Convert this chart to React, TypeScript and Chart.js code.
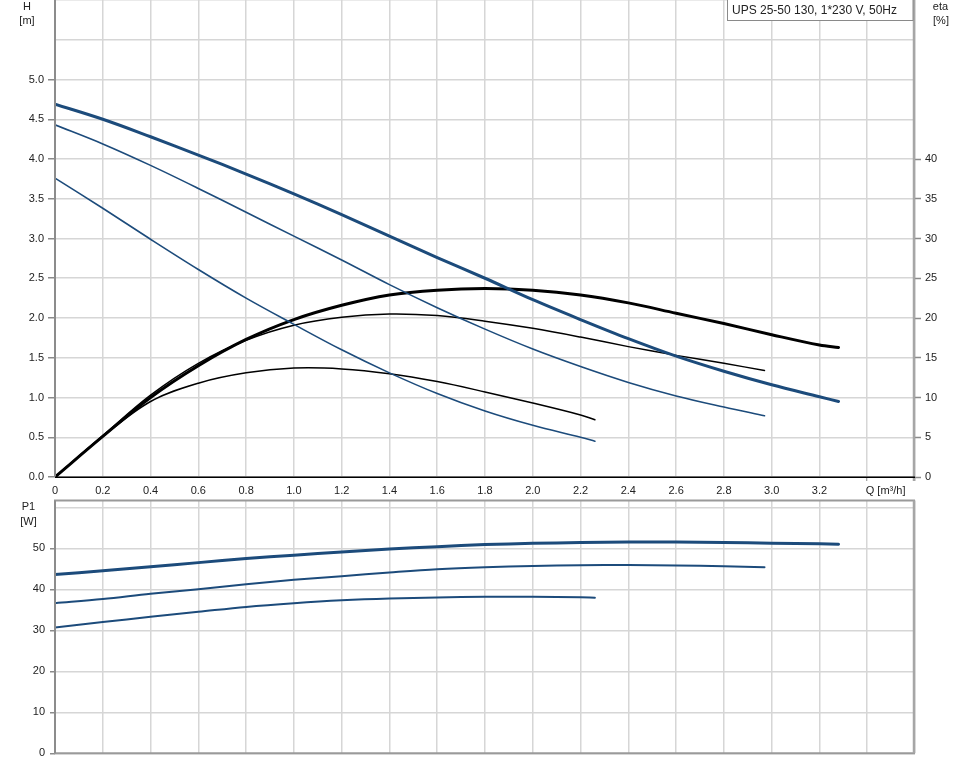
import React, { useEffect, useRef } from 'react';
import { Chart, registerables } from 'chart.js';

Chart.register(...registerables);

// ---------- data ----------
const qSpeed3 = [0, 0.2, 0.4, 0.6, 0.8, 1.0, 1.2, 1.4, 1.6, 1.8, 2.0, 2.2, 2.4, 2.6, 2.8, 3.0, 3.2, 3.28];
const qSpeed2 = [0, 0.2, 0.4, 0.6, 0.8, 1.0, 1.2, 1.4, 1.6, 1.8, 2.0, 2.2, 2.4, 2.6, 2.8, 2.97];
const qSpeed1 = [0, 0.2, 0.4, 0.6, 0.8, 1.0, 1.2, 1.4, 1.6, 1.8, 2.0, 2.2, 2.26];

const headSpeed3 = [4.69, 4.5, 4.28, 4.05, 3.81, 3.56, 3.3, 3.03, 2.76, 2.5, 2.23, 1.98, 1.74, 1.52, 1.33, 1.16, 1.01, 0.95];
const headSpeed2 = [4.43, 4.19, 3.92, 3.63, 3.33, 3.03, 2.73, 2.42, 2.13, 1.86, 1.61, 1.39, 1.19, 1.02, 0.88, 0.77];
const headSpeed1 = [3.76, 3.38, 2.99, 2.61, 2.25, 1.92, 1.6, 1.31, 1.05, 0.83, 0.65, 0.5, 0.45];

const etaSpeed3 = [0, 5.1, 10.0, 14.0, 17.3, 19.8, 21.6, 22.9, 23.5, 23.7, 23.5, 22.9, 21.9, 20.6, 19.3, 17.9, 16.6, 16.3];
const etaSpeed2 = [0, 5.2, 10.3, 14.3, 17.2, 19.1, 20.1, 20.5, 20.3, 19.6, 18.7, 17.6, 16.4, 15.3, 14.3, 13.4];
const etaSpeed1 = [0, 5.1, 9.5, 11.8, 13.1, 13.7, 13.6, 13.0, 12.0, 10.7, 9.3, 7.8, 7.2];

const powerSpeed3 = [43.6, 44.5, 45.5, 46.5, 47.5, 48.3, 49.1, 49.8, 50.4, 50.9, 51.2, 51.4, 51.5, 51.5, 51.4, 51.25, 51.1, 51.0];
const powerSpeed2 = [36.6, 37.6, 38.9, 40.0, 41.2, 42.3, 43.2, 44.1, 44.9, 45.4, 45.7, 45.85, 45.9, 45.8, 45.6, 45.4];
const powerSpeed1 = [30.7, 32.0, 33.3, 34.5, 35.7, 36.6, 37.3, 37.75, 38.0, 38.15, 38.15, 38.05, 37.95];

// ---------- ticks ----------
const qTicks = [0, 0.2, 0.4, 0.6, 0.8, 1.0, 1.2, 1.4, 1.6, 1.8, 2.0, 2.2, 2.4, 2.6, 2.8, 3.0, 3.2, 3.4, 3.6];
const qTickLabels = ['0', '0.2', '0.4', '0.6', '0.8', '1.0', '1.2', '1.4', '1.6', '1.8', '2.0', '2.2', '2.4', '2.6', '2.8', '3.0', '3.2', '', ''];
const headTicks = [0, 0.5, 1.0, 1.5, 2.0, 2.5, 3.0, 3.5, 4.0, 4.5, 5.0, 5.5, 6.0];
const headTickLabels = ['0.0', '0.5', '1.0', '1.5', '2.0', '2.5', '3.0', '3.5', '4.0', '4.5', '5.0', '', ''];
const etaTicks = [0, 5, 10, 15, 20, 25, 30, 35, 40];
const etaTickLabels = ['0', '5', '10', '15', '20', '25', '30', '35', '40'];
const powerTicks = [0, 10, 20, 30, 40, 50, 60];
const powerTickLabels = ['0', '10', '20', '30', '40', '50', ''];

const legendText = 'UPS 25-50 130, 1*230 V, 50Hz';
const qAxisTitle = 'Q [m³/h]';

// ---------- style ----------
const FONT = '"Liberation Sans", Arial, Helvetica, sans-serif';
const BLUE = '#1c4b7b';
const GRID = '#d6d6d6';
const TICK = '#8a8a8a';
const TEXT = '#222';

const toPts = (q: number[], v: number[]) => q.map((x, i) => ({ x, y: v[i] }));

const setTicks = (vals: number[]) => (s: any) => {
  s.ticks = vals.map((v) => ({ value: v }));
};
const fitW = (w: number) => (s: any) => {
  s.width = w;
  s.paddingTop = 0;
  s.paddingBottom = 0;
  s.paddingLeft = 0;
  s.paddingRight = 0;
};
const fitH = (h: number) => (s: any) => {
  s.height = h;
  s.paddingTop = 0;
  s.paddingBottom = 0;
  s.paddingLeft = 0;
  s.paddingRight = 0;
};

const line = (ctx: CanvasRenderingContext2D, x1: number, y1: number, x2: number, y2: number) => {
  ctx.beginPath();
  ctx.moveTo(x1, y1);
  ctx.lineTo(x2, y2);
  ctx.stroke();
};

const lineDs = (data: any[], axis: string, color: string, width: number) => ({
  data,
  yAxisID: axis,
  borderColor: color,
  borderWidth: width,
  pointRadius: 0,
  fill: false,
  tension: 0.35,
  borderCapStyle: 'round' as const,
  borderJoinStyle: 'round' as const,
});

const tickFont = { family: FONT, size: 11 };

const topFrame = {
  id: 'topFrame',
  afterDraw(chart: any) {
    const { ctx, chartArea } = chart;
    const { left, right, top, bottom } = chartArea;
    ctx.save();
    ctx.strokeStyle = '#8c8c8c';
    ctx.lineWidth = 2;
    line(ctx, left, top, left, bottom);
    ctx.strokeStyle = '#a6a6a6';
    ctx.lineWidth = 2.5;
    line(ctx, right - 1, top, right - 1, bottom + 4);
    ctx.strokeStyle = '#000';
    ctx.lineWidth = 1.4;
    line(ctx, left, bottom + 0.3, right, bottom + 0.3);

    // legend box
    ctx.fillStyle = '#fff';
    ctx.fillRect(727.5, -1, 185.5, 21.5);
    ctx.strokeStyle = '#8a8a8a';
    ctx.lineWidth = 1;
    ctx.strokeRect(727.5, -1, 185.5, 21.5);
    ctx.fillStyle = TEXT;
    ctx.font = `12px ${FONT}`;
    ctx.textAlign = 'left';
    ctx.textBaseline = 'middle';
    ctx.fillText(legendText, 732, 11);

    // axis titles
    ctx.font = `11px ${FONT}`;
    ctx.textAlign = 'center';
    ctx.fillText('H', 27, 6.5);
    ctx.fillText('[m]', 27, 21);
    ctx.fillText('eta', 940.5, 6.5);
    ctx.fillText('[%]', 941, 21);

    // Q axis title
    const xs = chart.scales.x;
    ctx.textAlign = 'left';
    ctx.textBaseline = 'middle';
    ctx.fillText(qAxisTitle, xs.getPixelForValue(3.4) - 1.5, 490.5);
    ctx.restore();
  },
};

const bottomFrame = {
  id: 'bottomFrame',
  afterDraw(chart: any) {
    const { ctx, chartArea } = chart;
    const { left, right, top, bottom } = chartArea;
    ctx.save();
    ctx.strokeStyle = '#9a9a9a';
    ctx.lineWidth = 2;
    line(ctx, left - 1, top, right, top);
    line(ctx, left - 1, bottom, right, bottom);
    ctx.strokeStyle = '#8c8c8c';
    line(ctx, left, top, left, bottom);
    ctx.strokeStyle = '#a6a6a6';
    ctx.lineWidth = 2.5;
    line(ctx, right - 1, top, right - 1, bottom);

    ctx.fillStyle = TEXT;
    ctx.font = `11px ${FONT}`;
    ctx.textAlign = 'center';
    ctx.textBaseline = 'middle';
    ctx.fillText('P1', 28.5, 10);
    ctx.fillText('[W]', 28.5, 24.5);
    ctx.restore();
  },
};

export default function App() {
  const topRef = useRef<HTMLCanvasElement>(null);
  const botRef = useRef<HTMLCanvasElement>(null);

  useEffect(() => {
    const top = new Chart(topRef.current as HTMLCanvasElement, {
      type: 'line',
      data: {
        datasets: [
          lineDs(toPts(qSpeed3, headSpeed3), 'y', BLUE, 3),
          lineDs(toPts(qSpeed2, headSpeed2), 'y', BLUE, 1.6),
          lineDs(toPts(qSpeed1, headSpeed1), 'y', BLUE, 1.6),
          lineDs(toPts(qSpeed3, etaSpeed3), 'eta', '#000', 3),
          lineDs(toPts(qSpeed2, etaSpeed2), 'eta', '#000', 1.5),
          lineDs(toPts(qSpeed1, etaSpeed1), 'eta', '#000', 1.5),
        ] as any,
      },
      options: {
        responsive: false,
        animation: false,
        events: [],
        layout: { padding: 0 },
        plugins: { legend: { display: false }, tooltip: { enabled: false } },
        scales: {
          x: {
            type: 'linear',
            min: 0,
            max: 3.6,
            afterBuildTicks: setTicks(qTicks),
            afterFit: fitH(20),
            border: { display: false },
            grid: {
              color: GRID,
              lineWidth: 1.5,
              tickLength: 4,
              tickWidth: 1,
              tickColor: (c: any) => (c.tick && c.tick.value > 3.3 ? TICK : 'rgba(0,0,0,0)'),
            },
            ticks: {
              autoSkip: false,
              maxRotation: 0,
              padding: 3,
              color: TEXT,
              font: tickFont,
              callback: (_v: any, i: number) => qTickLabels[i],
            },
          },
          y: {
            type: 'linear',
            position: 'left',
            min: 0,
            max: 6,
            afterBuildTicks: setTicks(headTicks),
            afterFit: fitW(55),
            border: { display: false },
            grid: {
              color: GRID,
              lineWidth: 1.5,
              tickLength: 7,
              tickWidth: 1.5,
              tickColor: (c: any) => (c.tick && c.tick.value > 5.01 ? 'rgba(0,0,0,0)' : TICK),
            },
            ticks: {
              padding: 4,
              color: TEXT,
              font: tickFont,
              callback: (_v: any, i: number) => headTickLabels[i],
            },
          },
          eta: {
            type: 'linear',
            position: 'right',
            min: 0,
            max: 60,
            afterBuildTicks: setTicks(etaTicks),
            afterFit: fitW(53),
            border: { display: false },
            grid: { drawOnChartArea: false, tickLength: 6, tickWidth: 1.5, tickColor: TICK },
            ticks: {
              padding: 4,
              color: TEXT,
              font: tickFont,
              callback: (_v: any, i: number) => etaTickLabels[i],
            },
          },
        },
      } as any,
      plugins: [topFrame],
    });

    const bottom = new Chart(botRef.current as HTMLCanvasElement, {
      type: 'line',
      data: {
        datasets: [
          lineDs(toPts(qSpeed3, powerSpeed3), 'y', BLUE, 3),
          lineDs(toPts(qSpeed2, powerSpeed2), 'y', BLUE, 2),
          lineDs(toPts(qSpeed1, powerSpeed1), 'y', BLUE, 2),
        ] as any,
      },
      options: {
        responsive: false,
        animation: false,
        events: [],
        layout: { padding: { top: 3.5, bottom: 10.7, right: 53, left: 0 } },
        plugins: { legend: { display: false }, tooltip: { enabled: false } },
        scales: {
          x: {
            type: 'linear',
            min: 0,
            max: 3.6,
            afterBuildTicks: setTicks(qTicks),
            afterFit: fitH(0),
            border: { display: false },
            grid: { color: GRID, lineWidth: 1.5, drawTicks: false },
            ticks: { display: false },
          },
          y: {
            type: 'linear',
            position: 'left',
            min: 0,
            max: 61.65,
            afterBuildTicks: setTicks(powerTicks),
            afterFit: fitW(55),
            border: { display: false },
            grid: {
              color: GRID,
              lineWidth: 1.5,
              tickLength: 5,
              tickWidth: 1.5,
              tickColor: (c: any) => (c.tick && c.tick.value > 55 ? 'rgba(0,0,0,0)' : TICK),
            },
            ticks: {
              padding: 5,
              color: TEXT,
              font: tickFont,
              callback: (_v: any, i: number) => powerTickLabels[i],
            },
          },
        },
      } as any,
      plugins: [bottomFrame],
    });

    return () => {
      top.destroy();
      bottom.destroy();
    };
  }, []);

  return (
    <div style={{ position: 'absolute', left: 0, top: 0, width: 968, height: 764, background: '#fff' }}>
      <canvas
        ref={topRef}
        width={968}
        height={497}
        style={{ position: 'absolute', left: 0, top: 0, width: 968, height: 497, display: 'block' }}
      />
      <canvas
        ref={botRef}
        width={968}
        height={267}
        style={{ position: 'absolute', left: 0, top: 497, width: 968, height: 267, display: 'block' }}
      />
    </div>
  );
}
